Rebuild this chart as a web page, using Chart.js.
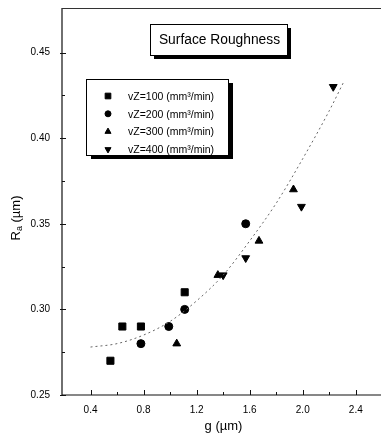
<!DOCTYPE html>
<html>
<head>
<meta charset="utf-8">
<script src="https://cdn.jsdelivr.net/npm/chart.js@4.4.1/dist/chart.umd.min.js"></script>
<style>
  html, body { margin: 0; padding: 0; background: #fff; }
  #wrap { width: 381px; height: 442px; position: relative; }
</style>
</head>
<body>
<div id="wrap"><canvas id="roughChart" width="381" height="442"></canvas></div>
<script>
// Data
const seriesLabels = [
  "vZ=100 (mm\u00b3/min)",
  "vZ=200 (mm\u00b3/min)",
  "vZ=300 (mm\u00b3/min)",
  "vZ=400 (mm\u00b3/min)",
];

// g (µm) and Ra (µm) for each feed rate
const gVz100 = [0.55, 0.64, 0.78, 1.11];
const raVz100 = [0.27, 0.29, 0.29, 0.31];

const gVz200 = [0.78, 0.99, 1.11, 1.57];
const raVz200 = [0.28, 0.29, 0.30, 0.35];

const gVz300 = [1.05, 1.36, 1.67, 1.93];
const raVz300 = [0.28, 0.32, 0.34, 0.37];

const gVz400 = [1.40, 1.57, 1.99, 2.23];
const raVz400 = [0.32, 0.33, 0.36, 0.43];

// fitted trend line
const fitG = [0.40, 0.60, 0.80, 1.00, 1.20, 1.40, 1.60, 1.80, 2.00, 2.20, 2.31];
const fitRa = [0.278, 0.280, 0.285, 0.293, 0.305, 0.320, 0.340, 0.362, 0.388, 0.416, 0.433];

const xTicks = [0.4, 0.8, 1.2, 1.6, 2.0, 2.4];
const xMinorTicks = [0.6, 1.0, 1.4, 1.8, 2.2];
const yTicks = [0.25, 0.30, 0.35, 0.40, 0.45];
const yMinorTicks = [0.275, 0.325, 0.375, 0.425];

const chartTitle = "Surface Roughness";
const xTitle = "g (\u00b5m)";

const markerStyles = [
  { pointStyle: "rect", rotation: 0, radius: 5 },
  { pointStyle: "circle", rotation: 0, radius: 4 },
  { pointStyle: "triangle", rotation: 0, radius: 4.5 },
  { pointStyle: "triangle", rotation: 180, radius: 4.5 },
];

function toPoints(xs, ys) {
  return xs.map((x, i) => ({ x: x, y: ys[i] }));
}

const FONT = "'Liberation Sans', Arial, sans-serif";

// Ticks, frame, title box, legend and axis titles
const decorPlugin = {
  id: "decor",
  afterDraw(chart) {
    const ctx = chart.ctx;
    const area = chart.chartArea;
    const xs = chart.scales.x;
    const ys = chart.scales.y;
    ctx.save();

    // frame (left, bottom, top)
    ctx.strokeStyle = "#111";
    ctx.lineWidth = 1.2;
    ctx.beginPath();
    ctx.moveTo(area.left, area.top);
    ctx.lineTo(area.left, area.bottom);
    ctx.lineTo(area.right, area.bottom);
    ctx.stroke();
    ctx.strokeStyle = "#333";
    ctx.lineWidth = 1;
    ctx.beginPath();
    ctx.moveTo(area.left, area.top + 0.5);
    ctx.lineTo(area.right, area.top + 0.5);
    ctx.stroke();

    // inward tick marks
    ctx.strokeStyle = "#111";
    ctx.lineWidth = 1;
    ctx.beginPath();
    xTicks.forEach((v) => {
      const px = Math.round(xs.getPixelForValue(v)) + 0.5;
      ctx.moveTo(px, area.bottom);
      ctx.lineTo(px, area.bottom - 5);
    });
    xMinorTicks.forEach((v) => {
      const px = Math.round(xs.getPixelForValue(v)) + 0.5;
      ctx.moveTo(px, area.bottom);
      ctx.lineTo(px, area.bottom - 3);
    });
    yTicks.forEach((v) => {
      const py = Math.round(ys.getPixelForValue(v)) + 0.5;
      ctx.moveTo(area.left - 2, py);
      ctx.lineTo(area.left + 4, py);
    });
    yMinorTicks.forEach((v) => {
      const py = Math.round(ys.getPixelForValue(v)) + 0.5;
      ctx.moveTo(area.left, py);
      ctx.lineTo(area.left + 3, py);
    });
    ctx.stroke();

    // title box with drop shadow
    const tb = { x: 150, y: 24, w: 137, h: 31 };
    ctx.fillStyle = "#000";
    ctx.fillRect(tb.x + 4, tb.y + 4, tb.w, tb.h);
    ctx.fillStyle = "#fff";
    ctx.fillRect(tb.x, tb.y, tb.w, tb.h);
    ctx.strokeStyle = "#000";
    ctx.lineWidth = 1;
    ctx.strokeRect(tb.x + 0.5, tb.y + 0.5, tb.w, tb.h);
    ctx.fillStyle = "#000";
    ctx.font = "13.8px " + FONT;
    ctx.textAlign = "center";
    ctx.textBaseline = "middle";
    ctx.fillText(chartTitle, tb.x + tb.w / 2 + 1, tb.y + tb.h / 2 + 1);

    // legend box with drop shadow
    const lb = { x: 86, y: 79, w: 142, h: 76 };
    ctx.fillStyle = "#000";
    ctx.fillRect(lb.x + 5, lb.y + 4, lb.w, lb.h);
    ctx.fillStyle = "#fff";
    ctx.fillRect(lb.x, lb.y, lb.w, lb.h);
    ctx.strokeStyle = "#000";
    ctx.strokeRect(lb.x + 0.5, lb.y + 0.5, lb.w, lb.h);
    ctx.font = "10.5px " + FONT;
    ctx.textAlign = "left";
    seriesLabels.forEach((label, i) => {
      const rowY = 96 + i * 17.8;
      const ms = markerStyles[i];
      ctx.fillStyle = "#000";
      ctx.strokeStyle = "#000";
      Chart.helpers.drawPoint(ctx, {
        pointStyle: ms.pointStyle,
        rotation: ms.rotation,
        radius: ms.radius - 1,
        borderWidth: 1,
      }, 108, rowY);
      ctx.fillStyle = "#000";
      ctx.fillText(label, 128, rowY + 1);
    });

    // x axis title
    ctx.font = "13px " + FONT;
    ctx.textAlign = "center";
    ctx.textBaseline = "middle";
    ctx.fillText(xTitle, (area.left + area.right) / 2 + 2, 426);

    // y axis title: R with subscript a
    ctx.translate(16, 218);
    ctx.rotate(-Math.PI / 2);
    ctx.textAlign = "left";
    ctx.font = "13px " + FONT;
    const rW = ctx.measureText("R").width;
    ctx.font = "9px " + FONT;
    const aW = ctx.measureText("a").width;
    ctx.font = "13px " + FONT;
    const restW = ctx.measureText(" (\u00b5m)").width;
    let cx = -(rW + aW + restW) / 2;
    ctx.fillText("R", cx, 0);
    cx += rW;
    ctx.font = "9px " + FONT;
    ctx.fillText("a", cx, 4);
    cx += aW;
    ctx.font = "13px " + FONT;
    ctx.fillText(" (\u00b5m)", cx, 0);

    ctx.restore();
  },
};

const scatterSets = [
  [gVz100, raVz100],
  [gVz200, raVz200],
  [gVz300, raVz300],
  [gVz400, raVz400],
].map((pair, i) => ({
  label: seriesLabels[i],
  data: toPoints(pair[0], pair[1]),
  pointStyle: markerStyles[i].pointStyle,
  rotation: markerStyles[i].rotation,
  pointRadius: markerStyles[i].radius,
  backgroundColor: "#000",
  borderColor: "#000",
  borderWidth: 1,
  showLine: false,
}));

const fitSet = {
  label: "fit",
  data: toPoints(fitG, fitRa),
  showLine: true,
  borderColor: "#666",
  borderWidth: 1,
  borderDash: [2, 3],
  pointRadius: 0,
  tension: 0.4,
  cubicInterpolationMode: "monotone",
  fill: false,
};

const ctx = document.getElementById("roughChart").getContext("2d");
const roughChart = new Chart(ctx, {
  type: "scatter",
  data: { datasets: [fitSet].concat(scatterSets) },
  options: {
    responsive: false,
    animation: false,
    layout: { autoPadding: false, padding: { top: 8, right: 0, left: 0, bottom: 0 } },
    plugins: {
      legend: { display: false },
      tooltip: { enabled: false },
      title: { display: false },
    },
    scales: {
      x: {
        type: "linear",
        min: 0.185,
        max: 2.59,
        border: { display: false },
        grid: { display: false, drawTicks: false },
        afterBuildTicks: (scale) => {
          scale.ticks = xTicks.map((v) => ({ value: v }));
        },
        afterFit: (scale) => {
          scale.height = 47;
          scale.paddingLeft = 0;
          scale.paddingRight = 0;
        },
        ticks: {
          padding: 9,
          color: "#000",
          font: { size: 10, family: FONT },
          maxRotation: 0,
          callback: (v) => v.toFixed(1),
        },
      },
      y: {
        type: "linear",
        min: 0.25,
        max: 0.476,
        border: { display: false },
        grid: { display: false, drawTicks: false },
        afterBuildTicks: (scale) => {
          scale.ticks = yTicks.map((v) => ({ value: v }));
        },
        afterFit: (scale) => {
          scale.width = 62;
          scale.paddingTop = 0;
          scale.paddingBottom = 0;
        },
        ticks: {
          padding: 12,
          color: "#000",
          font: { size: 10, family: FONT },
          callback: (v) => v.toFixed(2),
        },
      },
    },
  },
  plugins: [decorPlugin],
});
</script>
</body>
</html>
